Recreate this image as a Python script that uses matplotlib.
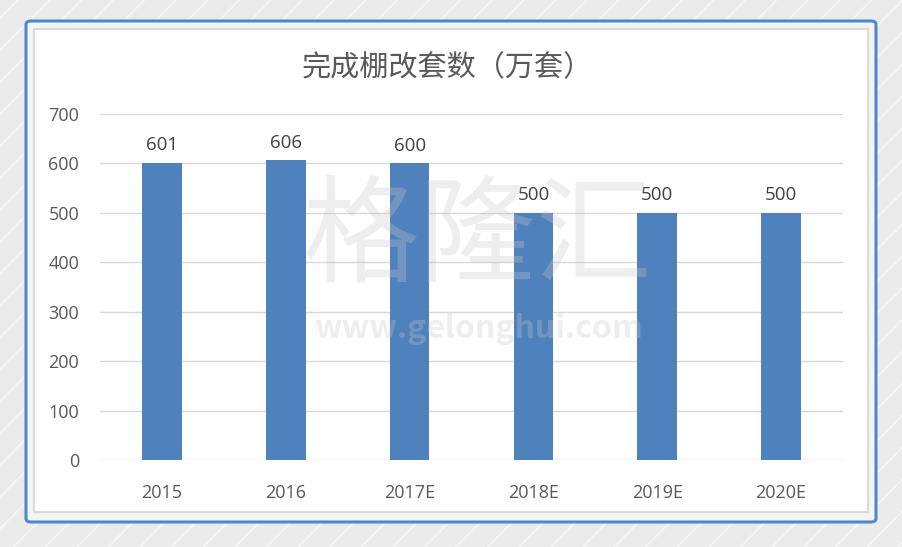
import matplotlib
matplotlib.use("Agg")
import matplotlib.pyplot as plt
from matplotlib.patches import FancyBboxPatch, Rectangle
from matplotlib.lines import Line2D
import numpy as np

plt.rcParams['font.family'] = ['Noto Sans CJK SC', 'DejaVu Sans']

categories = ["2015", "2016", "2017E", "2018E", "2019E", "2020E"]
values = [601, 606, 600, 500, 500, 500]
yticks = [0, 100, 200, 300, 400, 500, 600, 700]
title = "完成棚改套数（万套）"

W, H = 903, 547
fig = plt.figure(figsize=(W/100, H/100), dpi=100)
fig.patch.set_facecolor("#EBEBEB")

# background diagonal stripes
for k in np.arange(-1.0, 2.0, 0.035):
    fig.add_artist(Line2D([k, k + 0.6], [0, 1], transform=fig.transFigure,
                          color="white", lw=1.2, alpha=0.5, zorder=0))

def fx(x): return x / W
def fy(y): return 1 - y / H

# blue outer rounded frame
fig.add_artist(FancyBboxPatch((fx(26), fy(522)), fx(876) - fx(26), fy(21) - fy(522),
                              boxstyle="round,pad=0,rounding_size=0.006",
                              transform=fig.transFigure, facecolor="#F4F4F4",
                              edgecolor="#4A8AD0", lw=2.2, zorder=1))
# inner white panel
fig.add_artist(Rectangle((fx(34), fy(512)), fx(868) - fx(34), fy(29) - fy(512),
                         transform=fig.transFigure, facecolor="white",
                         edgecolor="#D9D9D9", lw=1.5, zorder=2))

ax = fig.add_axes([fx(100), fy(460), fx(843) - fx(100), fy(114) - fy(460)])
ax.set_zorder(3)
ax.patch.set_alpha(0)

x = np.arange(len(categories))
bars = ax.bar(x, values, width=0.32, color="#4F81BD", zorder=3)
for xi, v in zip(x, values):
    ax.text(xi, v + 18, str(v), ha="center", va="bottom", fontsize=13.5,
            color="#404040", family=['Open Sans', 'DejaVu Sans'])

ax.set_xlim(-0.5, len(categories) - 0.5)
ax.set_ylim(0, 700)
ax.set_yticks(yticks)
ax.set_yticklabels([str(t) for t in yticks])
ax.set_xticks(x)
ax.set_xticklabels(categories)
ax.grid(axis="y", color="#D9D9D9", lw=1, zorder=0)
for s in ax.spines.values():
    s.set_visible(False)
ax.tick_params(length=0, labelsize=13, colors="#595959")
ax.tick_params(axis="y", pad=15)
ax.tick_params(axis="x", pad=17)
for lab in ax.get_xticklabels() + ax.get_yticklabels():
    lab.set_family(['Open Sans', 'DejaVu Sans'])

fig.text(fx(447), fy(68), title, ha="center", va="center", fontsize=21,
         color="#595959", zorder=5)

# watermark
fig.text(fx(478), fy(240), "格隆汇", ha="center", va="center", fontsize=84,
         color="#C8C8C8", alpha=0.3, zorder=6)
fig.text(fx(478), fy(329), "www.gelonghui.com", ha="center", va="center",
         fontsize=23, color="#C8C8C8", alpha=0.3, fontweight="bold", zorder=6)

fig.savefig("out.png", dpi=100, facecolor=fig.get_facecolor())
